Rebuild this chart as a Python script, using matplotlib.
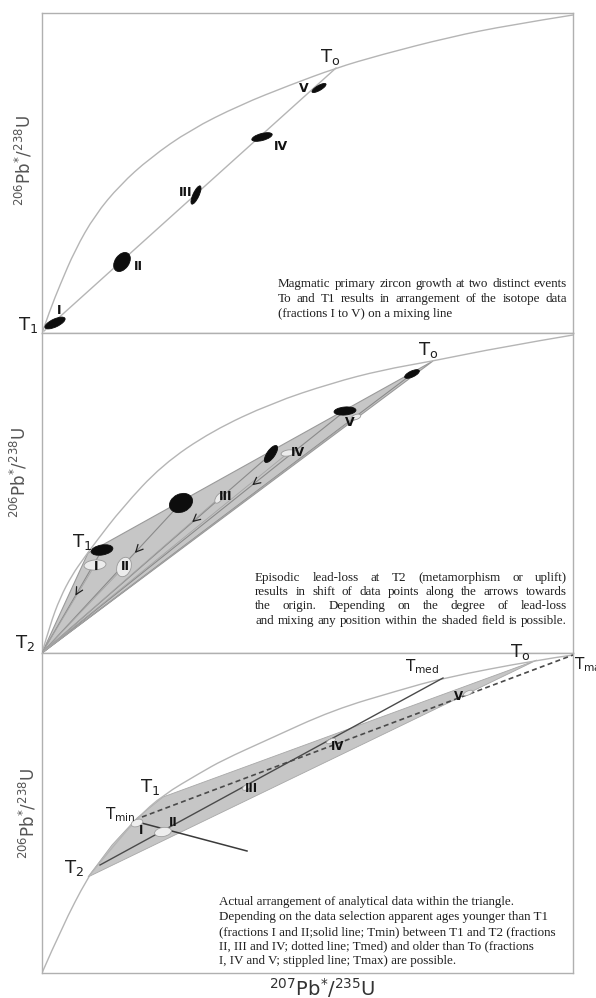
import matplotlib
matplotlib.use('Agg')
import matplotlib.pyplot as plt
from matplotlib.patches import Ellipse, Polygon, PathPatch
from matplotlib.path import Path

# ---------------- data (panel data units: x 0..531, y 0..320) ----------------
# Panel 1: concordia and mixing line
p1_conc_x = [0, 8, 18, 33, 53, 78, 108, 148, 198, 248, 294, 338, 408, 468, 531]
p1_conc_y = [0, 23, 48, 83, 118, 148, 175, 203, 228, 248, 265, 278, 296, 308, 318]
p1_mix_x = [2, 294]
p1_mix_y = [2, 265]
p1_ell_x = [13, 80, 154, 220, 277]
p1_ell_y = [10, 71, 138, 196, 245]
p1_ell_w = [22, 21, 20, 21, 16]
p1_ell_h = [8, 14, 6, 7, 5]
p1_ell_a = [25, 55, 65, 15, 30]
fractions = ['I', 'II', 'III', 'IV', 'V']
p1_lab_x = [17, 96, 144, 239, 262]
p1_lab_y = [23, 66, 141, 187, 244]

# Panel 2: lead loss
p2_conc_x = [0, 8, 18, 30, 42, 53, 80, 120, 170, 230, 290, 340, 391, 460, 531]
p2_conc_y = [0, 28, 55, 78, 95, 110, 145, 188, 222, 250, 270, 283, 292, 306, 318]
p2_tri_x = [0, 46, 391]
p2_tri_y = [0, 100, 292]
p2_blk_x = [60, 139, 229, 303, 370]
p2_blk_y = [103, 150, 199, 242, 279]
p2_blk_w = [22, 24, 20, 22, 16]
p2_blk_h = [10, 18, 8, 8, 6]
p2_blk_a = [10, 25, 55, 5, 25]
p2_gry_x = [53, 82, 177, 246, 314]
p2_gry_y = [88, 86, 155, 200, 236]
p2_gry_w = [22, 20, 12, 14, 10]
p2_gry_h = [10, 14, 6, 6, 5]
p2_gry_a = [5, 70, 55, 10, 20]
p2_lab_x = [54, 83, 184, 256, 308]
p2_lab_y = [87, 87, 156, 201, 231]
p2_arrow_x = [32, 91, 148, 208]
p2_arrow_y = [55, 98, 129, 166]

# Panel 3: actual arrangement
p3_conc_x = [0, 20, 46, 55, 95, 121, 158, 181, 225, 291, 358, 401, 495, 531]
p3_conc_y = [0, 46, 96, 107, 155, 178, 200, 213, 233, 263, 283, 295, 313, 318]
p3_tri_x = [46, 70, 95, 121, 495]
p3_tri_y = [96, 128, 155, 176, 313]
p3_min_x = [92, 205]
p3_min_y = [152, 122]
p3_med_x = [58, 401]
p3_med_y = [108, 295]
p3_max_x = [100, 531]
p3_max_y = [156, 318]
p3_ell_x = [95, 121, 205, 289, 426]
p3_ell_y = [150, 141, 186, 232, 280]
p3_ell_w = [12, 17, 10, 10, 10]
p3_ell_h = [7, 9, 5, 4, 4]
p3_ell_a = [20, 10, 30, 25, 25]
p3_lab_x = [99, 131, 209, 296, 416]
p3_lab_y = [143, 150, 185, 226, 277]

text1 = ["Magmatic primary zircon growth at two distinct events",
         "To and T1 results in arrangement of the isotope data",
         "(fractions I to V) on a mixing line"]
text2 = ["Episodic lead-loss at T2 (metamorphism or uplift)",
         "results in shift of data points along the arrows towards",
         "the origin. Depending on the degree of lead-loss",
         "and mixing any position within the shaded field is possible."]
text3 = ["Actual arrangement of analytical data within the triangle.",
         "Depending on the data selection apparent ages younger than T1",
         "(fractions I and II;solid line; Tmin) between T1 and T2 (fractions",
         "II, III and IV; dotted line; Tmed) and older than To (fractions",
         "I, IV and V; stippled line; Tmax) are possible."]

ylabel = r'$^{206}$Pb$^{*}$/$^{238}$U'
xlabel = r'$^{207}$Pb$^{*}$/$^{235}$U'

# ---------------- figure ----------------
W, H = 596, 998
fig = plt.figure(figsize=(W / 100, H / 100), dpi=100)
plt.rcParams['mathtext.fontset'] = 'dejavusans'

CONC = '#b5b5b5'
FRAME = '#b0b0b0'
SHADE = '#c6c6c6'
TXT = '#1e1e1e'


def make_ax(top, bottom):
    ax = fig.add_axes([42 / W, 1 - bottom / H, 531 / W, (bottom - top) / H])
    ax.set_xlim(0, 531)
    ax.set_ylim(0, 320)
    ax.set_xticks([])
    ax.set_yticks([])
    for s in ax.spines.values():
        s.set_color(FRAME)
        s.set_linewidth(1.0)
    return ax


def smooth_curve(ax, xs, ys, **kw):
    # quadratic B-spline style path drawn by matplotlib using the read points as controls
    pts = list(zip(xs, ys))
    verts = [pts[0]]
    codes = [Path.MOVETO]
    for i in range(1, len(pts) - 1):
        if i < len(pts) - 2:
            end = ((pts[i][0] + pts[i + 1][0]) / 2, (pts[i][1] + pts[i + 1][1]) / 2)
        else:
            end = pts[-1]
        verts += [pts[i], end]
        codes += [Path.CURVE3, Path.CURVE3]
    ax.add_patch(PathPatch(Path(verts, codes), facecolor='none', **kw))


def tlabel(ax, x, y, main, sub, size=13, ha='center'):
    ax.text(x, y, r'%s$_{\mathregular{%s}}$' % (main, sub), fontsize=size, color=TXT,
            ha=ha, va='center', clip_on=False, zorder=10)


def roman(ax, xs, ys, size=8.5):
    for x, y, t in zip(xs, ys, fractions):
        ax.text(x, y, t, fontsize=size, fontweight='bold', color='#111111',
                ha='center', va='center', zorder=8, family='Liberation Sans Narrow')


def ellipses(ax, xs, ys, ws, hs, angs, fc, ec, lw=0.6, z=6):
    for x, y, w, h, a in zip(xs, ys, ws, hs, angs):
        ax.add_patch(Ellipse((x, y), w, h, angle=a, facecolor=fc, edgecolor=ec, lw=lw, zorder=z))


ax1 = make_ax(13, 333)
ax2 = make_ax(333, 653)
ax3 = make_ax(653, 973)

# ---- panel 1 ----
smooth_curve(ax1, p1_conc_x, p1_conc_y, edgecolor=CONC, lw=1.0, zorder=2)
ax1.plot(p1_mix_x, p1_mix_y, color=CONC, lw=1.0, zorder=2)
ellipses(ax1, p1_ell_x, p1_ell_y, p1_ell_w, p1_ell_h, p1_ell_a, '#0d0d0d', '#0d0d0d')
roman(ax1, p1_lab_x, p1_lab_y, 9)
tlabel(ax1, 288, 276, 'T', 'o')
tlabel(ax1, -14, 8, 'T', '1')

# ---- panel 2 ----
smooth_curve(ax2, p2_conc_x, p2_conc_y, edgecolor=CONC, lw=1.0, zorder=2)
ax2.add_patch(Polygon(list(zip(p2_tri_x, p2_tri_y)), closed=True, facecolor=SHADE,
                      edgecolor='#9a9a9a', lw=0.8, zorder=1))
for bx, by in zip(p2_blk_x, p2_blk_y):
    ax2.plot([bx, p2_tri_x[0]], [by, p2_tri_y[0]], color='#8a8a8a', lw=0.8, zorder=3)
for gx, gy in zip(p2_gry_x, p2_gry_y):
    ax2.plot([gx, p2_tri_x[0]], [gy, p2_tri_y[0]], color='#a5a5a5', lw=0.6, zorder=3)
for i, (axx, ayy) in enumerate(zip(p2_arrow_x, p2_arrow_y)):
    bx, by = p2_blk_x[i], p2_blk_y[i]
    dx, dy = axx - bx, ayy - by
    d = (dx ** 2 + dy ** 2) ** 0.5
    ax2.annotate('', xy=(axx, ayy), xytext=(axx - dx / d * 8, ayy - dy / d * 8),
                 arrowprops=dict(arrowstyle='->,head_length=0.5,head_width=0.25',
                                 color='#222222', lw=0.9), zorder=5)
ellipses(ax2, p2_gry_x, p2_gry_y, p2_gry_w, p2_gry_h, p2_gry_a, '#ececec', '#9a9a9a')
ellipses(ax2, p2_blk_x, p2_blk_y, p2_blk_w, p2_blk_h, p2_blk_a, '#0d0d0d', '#0d0d0d', z=7)
roman(ax2, p2_lab_x, p2_lab_y, 9)
tlabel(ax2, 386, 303, 'T', 'o')
tlabel(ax2, 40, 111, 'T', '1')
tlabel(ax2, -17, 10, 'T', '2')

# ---- panel 3 ----
smooth_curve(ax3, p3_conc_x, p3_conc_y, edgecolor=CONC, lw=1.0, zorder=2)
ax3.add_patch(Polygon(list(zip(p3_tri_x, p3_tri_y)), closed=True, facecolor=SHADE,
                      edgecolor='#a8a8a8', lw=0.6, zorder=1))
ax3.plot(p3_med_x, p3_med_y, color='#4a4a4a', lw=1.0, zorder=4)
ax3.plot(p3_min_x, p3_min_y, color='#3a3a3a', lw=1.1, zorder=4)
ax3.plot(p3_max_x, p3_max_y, color='#4a4a4a', lw=1.2, ls=(0, (3, 2)), zorder=4)
ellipses(ax3, p3_ell_x, p3_ell_y, p3_ell_w, p3_ell_h, p3_ell_a, '#eeeeee', '#a0a0a0', z=5)
roman(ax3, p3_lab_x, p3_lab_y, 8.5)
tlabel(ax3, 32, 105, 'T', '2')
tlabel(ax3, 108, 186, 'T', '1')
tlabel(ax3, 78, 158, 'T', 'min', size=11)
tlabel(ax3, 380, 306, 'T', 'med', size=11)
tlabel(ax3, 478, 321, 'T', 'o')
tlabel(ax3, 532, 308, 'T', 'max', size=11, ha='left')

# ---- axis labels ----
for cy, cx in [(160, 24), (472, 19), (813, 28)]:
    fig.text(cx / W, 1 - cy / H, ylabel, rotation=90, fontsize=12, color='#555555',
             ha='center', va='center')
fig.text(322 / W, 1 - 988 / H, xlabel, fontsize=14, color='#333333', ha='center', va='center')

# ---- text blocks ----
renderer = fig.canvas.get_renderer()
FS = 9.4


def line(txt, x0, yc, x1=None):
    yb = 1 - (yc + 4) / H
    if x1 is None:
        fig.text(x0 / W, yb, txt, fontsize=FS, family='Liberation Serif', color=TXT,
                 ha='left', va='baseline')
        return
    words = txt.split()
    objs = [fig.text(0, yb, w, fontsize=FS, family='Liberation Serif', color=TXT,
                     ha='left', va='baseline') for w in words]
    widths = [o.get_window_extent(renderer).width for o in objs]
    gap = max(1.5, (x1 - x0 - sum(widths)) / (len(words) - 1))
    x = x0
    for o, wd in zip(objs, widths):
        o.set_x(x / W)
        x += wd + gap


for i, (t, y) in enumerate(zip(text1, [283, 298, 313])):
    line(t, 278, y, 567 if i < 2 else None)
for t, y in zip(text2, [577, 591, 605, 620]):
    line(t, 255, y, 567)
for t, y in zip(text3, [901, 916, 931, 945, 960]):
    line(t, 219, y)

fig.savefig('out.png', dpi=100)
